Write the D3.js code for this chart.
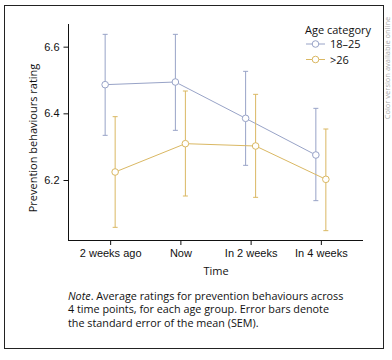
<!DOCTYPE html>
<html lang="en">
<head>
<meta charset="utf-8">
<title>Prevention behaviours</title>
<script src="https://cdn.jsdelivr.net/npm/d3@7"></script>
<style>
  body { margin: 0; background: #fff; }
  svg { font-family: "Open Sans", "Noto Sans", sans-serif; }
</style>
</head>
<body>
<div id="chart"></div>
<script>
// data
let timePoints = ["2 weeks ago", "Now", "In 2 weeks", "In 4 weeks"]
let groups = ["18\u201325", ">26"]
let youngMean = [6.486, 6.494, 6.385, 6.275]
let youngLow  = [6.334, 6.349, 6.244, 6.138]
let youngHigh = [6.637, 6.637, 6.526, 6.415]
let oldMean = [6.224, 6.309, 6.302, 6.202]
let oldLow  = [6.058, 6.152, 6.148, 6.048]
let oldHigh = [6.390, 6.467, 6.457, 6.353]
let yTicks = [6.2, 6.4, 6.6]

let colors = ["#98a3c7", "#dab863"]
let offsets = [-5, 5]

let width = 392, height = 360

let svg = d3.select("#chart").append("svg")
  .attr("width", width).attr("height", height)

// frame
svg.append("rect")
  .attr("x", 4.5).attr("y", 5.5)
  .attr("width", 379).attr("height", 343)
  .attr("fill", "none").attr("stroke", "#222").attr("stroke-width", 1)

// side note at the right edge
svg.append("text")
  .attr("transform", "translate(390,68) rotate(-90)")
  .attr("text-anchor", "middle")
  .attr("font-size", 7.5)
  .attr("fill", "#aaa")
  .text("Color version available online")

let xScale = d3.scalePoint().domain(timePoints).range([68, 363]).padding(0.6)
let yScale = d3.scaleLinear().domain([6.02, 6.668]).range([240, 24])

let xAxis = d3.axisBottom(xScale).tickSize(5).tickPadding(4)
let yAxis = d3.axisLeft(yScale).tickValues(yTicks).tickFormat(d3.format(".1f")).tickSize(5).tickPadding(4)

let gx = svg.append("g").attr("transform", "translate(0,240)").call(xAxis)
gx.select(".domain").attr("d", "M68,0.5H363").attr("stroke", "#111")
gx.selectAll("text").attr("font-size", 11).attr("fill", "#111")
gx.selectAll(".tick line").attr("stroke", "#111")

let gy = svg.append("g").attr("transform", "translate(68.5,0)").call(yAxis)
gy.select(".domain").attr("d", "M0,24V240").attr("stroke", "#111")
gy.selectAll("text").attr("font-size", 11).attr("fill", "#111")
gy.selectAll(".tick line").attr("stroke", "#111")

svg.append("text")
  .attr("x", 216).attr("y", 275)
  .attr("text-anchor", "middle")
  .attr("font-size", 11).attr("fill", "#111")
  .text("Time")

svg.append("text")
  .attr("transform", "translate(37,138) rotate(-90)")
  .attr("text-anchor", "middle")
  .attr("font-size", 11).attr("fill", "#111")
  .text("Prevention behaviours rating")

let series = [
  { mean: youngMean, low: youngLow, high: youngHigh },
  { mean: oldMean, low: oldLow, high: oldHigh }
]

series.forEach((s, k) => {
  let pts = timePoints.map((t, i) => ({ x: xScale(t) + offsets[k], m: s.mean[i], lo: s.low[i], hi: s.high[i] }))
  let g = svg.append("g")
  let line = d3.line().x(d => d.x).y(d => yScale(d.m))
  g.append("path").datum(pts).attr("d", line)
    .attr("fill", "none").attr("stroke", colors[k]).attr("stroke-width", 1)
  // error bars
  g.selectAll(".err").data(pts).enter().append("path")
    .attr("d", d => "M" + (d.x - 2.5) + "," + yScale(d.hi) + "H" + (d.x + 2.5) +
      "M" + d.x + "," + yScale(d.hi) + "V" + yScale(d.lo) +
      "M" + (d.x - 2.5) + "," + yScale(d.lo) + "H" + (d.x + 2.5))
    .attr("fill", "none").attr("stroke", colors[k]).attr("stroke-width", 1)
  g.selectAll("circle").data(pts).enter().append("circle")
    .attr("cx", d => d.x).attr("cy", d => yScale(d.m)).attr("r", 3.3)
    .attr("fill", "#fff").attr("stroke", colors[k]).attr("stroke-width", 1)
})

// legend
let leg = svg.append("g")
leg.append("text").attr("x", 305).attr("y", 34)
  .attr("font-size", 11).attr("fill", "#111").text("Age category")
groups.forEach((name, k) => {
  let y = 44 + k * 15.5
  leg.append("line").attr("x1", 306).attr("x2", 325).attr("y1", y).attr("y2", y)
    .attr("stroke", colors[k])
  leg.append("circle").attr("cx", 315.5).attr("cy", y).attr("r", 3.3)
    .attr("fill", "#fff").attr("stroke", colors[k])
  leg.append("text").attr("x", 330).attr("y", y + 4)
    .attr("font-size", 11).attr("fill", "#111").text(name)
})

// note
let note = svg.append("text").attr("x", 68).attr("y", 299.5)
  .attr("font-size", 10.8).attr("fill", "#111")
let l1 = note.append("tspan").attr("x", 68)
l1.append("tspan").attr("font-style", "italic").text("Note")
l1.append("tspan").text(". Average ratings for prevention behaviours across")
note.append("tspan").attr("x", 68).attr("dy", 13.7).text("4 time points, for each age group. Error bars denote")
note.append("tspan").attr("x", 68).attr("dy", 13.7).text("the standard error of the mean (SEM).")
</script>
</body>
</html>
